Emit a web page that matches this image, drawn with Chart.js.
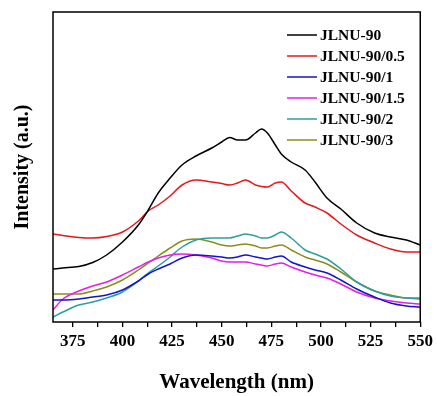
<!DOCTYPE html>
<html>
<head>
<meta charset="utf-8">
<script src="https://cdn.jsdelivr.net/npm/chart.js@4/dist/chart.umd.min.js"></script>
<style>
  body { margin: 0; background: #fff; }
  #wrap { width: 437px; height: 396px; }
</style>
</head>
<body>
<div id="wrap"><canvas id="plChart" width="437" height="396"></canvas></div>
<script>
// wavelength grid (nm)
const wavelengths = [365, 370, 378, 385, 392, 400, 408, 413, 418, 424, 430, 437, 445, 450, 454, 458,
    462, 467, 470, 473, 477, 480, 485, 492, 497, 503, 510, 518, 527, 535, 543, 550];

// intensities (a.u.)
const jlnu90 = [53, 54, 55.5, 59.5, 67, 80, 97, 112, 129, 144, 157, 166, 174, 180, 184.5, 182,
    182, 189, 193, 189, 177, 168, 160, 152, 140, 124, 113, 99, 89, 85, 82, 77];
const jlnu90_05 = [88, 86.5, 84.5, 84, 85.5, 90, 101, 111, 117, 126, 137, 142, 140, 138.5, 137, 139,
    142, 137, 135.5, 135, 139, 140, 131, 119, 115, 109, 98, 87, 79, 73, 70, 70];
const jlnu90_1 = [22, 22, 23, 25, 27, 32, 41, 48, 53, 58, 64, 67, 66, 65, 64, 65,
    67, 65, 64, 63, 65, 66, 60, 55, 52, 49, 42, 33, 25, 19, 16, 15];
const jlnu90_15 = [12, 23, 31, 36, 40, 47, 55, 60, 64, 67, 68, 67, 64, 61, 60, 60,
    60, 58, 57, 56, 58, 59, 55, 50, 47, 44, 38, 30, 24, 21, 19, 18];
const jlnu90_2 = [5, 10, 17, 20, 24, 30, 41, 49, 56, 65, 75, 82, 84, 84, 84, 86,
    88, 86, 84, 84, 87, 90, 84, 72, 68, 63, 53, 40, 31, 26, 24, 23];
const jlnu90_3 = [28, 28, 28, 31, 35, 42, 52, 59, 66, 74, 81, 83, 80, 77, 76, 77,
    78, 76, 74, 74, 76, 77, 72, 65, 62, 58, 50, 40, 31, 27, 24, 24];

const seriesNames = ['JLNU-90', 'JLNU-90/0.5', 'JLNU-90/1', 'JLNU-90/1.5', 'JLNU-90/2', 'JLNU-90/3'];
const seriesValues = [jlnu90, jlnu90_05, jlnu90_1, jlnu90_15, jlnu90_2, jlnu90_3];
const seriesColors = ['#000000', '#e3191c', '#1414c8', '#e61ee6', '#2e9e9e', '#8c8c1e'];
const xTickLabels = [375, 400, 425, 450, 475, 500, 525, 550];
const xMinorTicks = [387.5, 412.5, 437.5, 462.5, 487.5, 512.5, 537.5];

const serif = "'Times New Roman', 'Liberation Serif', serif";

// box round the plot + legend in the upper right corner
const frameAndLegend = {
    id: 'frameAndLegend',
    afterDraw(chart) {
        const ctx = chart.ctx;
        const a = chart.chartArea;
        ctx.save();
        ctx.strokeStyle = '#000';
        ctx.lineWidth = 1.5;
        ctx.strokeRect(a.left, a.top, a.right - a.left, a.bottom - a.top);

        ctx.font = 'bold 15.5px ' + serif;
        ctx.textBaseline = 'middle';
        ctx.fillStyle = '#000';
        chart.data.datasets.forEach((ds, i) => {
            const y = 35 + i * 21;
            ctx.strokeStyle = ds.borderColor;
            ctx.lineWidth = 1.5;
            ctx.beginPath();
            ctx.moveTo(287, y);
            ctx.lineTo(317, y);
            ctx.stroke();
            ctx.fillText(ds.label, 320, y + 1);
        });
        ctx.restore();
    }
};

new Chart(document.getElementById('plChart'), {
    type: 'line',
    data: {
        datasets: seriesNames.map((name, i) => ({
            label: name,
            data: wavelengths.map((w, j) => ({ x: w, y: seriesValues[i][j] })),
            borderColor: seriesColors[i],
            backgroundColor: seriesColors[i],
            borderWidth: 1.5,
            pointRadius: 0,
            cubicInterpolationMode: 'monotone',
            fill: false
        }))
    },
    options: {
        responsive: false,
        animation: false,
        layout: { padding: { top: 12, right: 14, left: 0, bottom: 0 } },
        plugins: {
            legend: { display: false },
            tooltip: { enabled: false }
        },
        scales: {
            x: {
                type: 'linear',
                min: 365,
                max: 550,
                afterBuildTicks: s => {
                    s.ticks = xTickLabels.concat(xMinorTicks).sort((a, b) => a - b).map(v => ({ value: v }));
                },
                afterFit: s => { s.height = 74; },
                border: { display: false },
                grid: {
                    drawOnChartArea: false,
                    drawTicks: true,
                    tickLength: 5,
                    lineWidth: 1.3,
                    color: '#000'
                },
                ticks: {
                    autoSkip: false,
                    maxRotation: 0,
                    padding: 4,
                    color: '#000',
                    font: { family: serif, size: 17, weight: 'bold' },
                    callback: v => xTickLabels.includes(v) ? String(v) : ''
                },
                title: {
                    display: true,
                    text: 'Wavelength (nm)',
                    color: '#000',
                    font: { family: serif, size: 21, weight: 'bold', lineHeight: 1.2 },
                    padding: { top: 0, bottom: 0.5 }
                }
            },
            y: {
                min: 0,
                max: 310,
                afterFit: s => { s.width = 53; },
                border: { display: false },
                grid: { display: false },
                ticks: { display: false },
                title: {
                    display: true,
                    text: 'Intensity (a.u.)',
                    color: '#000',
                    font: { family: serif, size: 20, weight: 'bold', lineHeight: 1.2 },
                    padding: { top: 11, bottom: 0 }
                }
            }
        }
    },
    plugins: [frameAndLegend]
});
</script>
</body>
</html>
